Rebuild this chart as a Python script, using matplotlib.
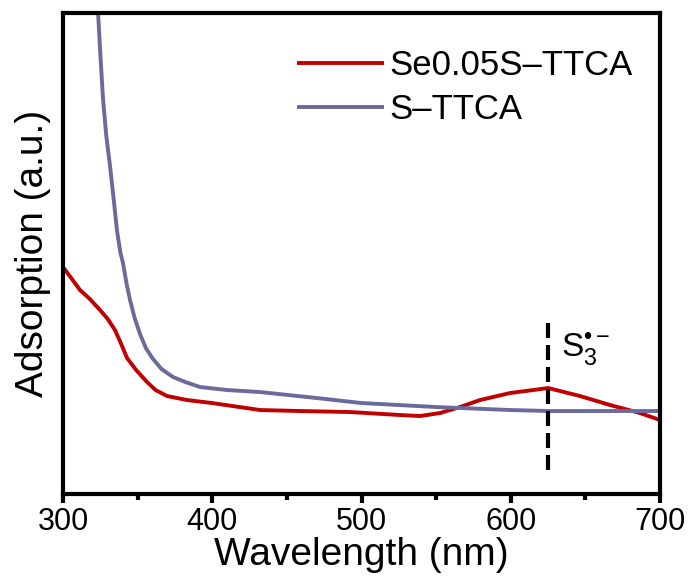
import matplotlib
matplotlib.use("Agg")
import matplotlib.pyplot as plt
from matplotlib.ticker import MultipleLocator

plt.rcParams['font.family'] = ['Liberation Sans', 'DejaVu Sans']
plt.rcParams['mathtext.fontset'] = 'custom'
plt.rcParams['mathtext.rm'] = 'Liberation Sans'
plt.rcParams['mathtext.it'] = 'Liberation Sans'

# Data (arbitrary absorbance units)
wl_se = [300, 305, 311.4, 318, 324.8, 330, 334.8, 339, 342.9, 349, 356.3, 362, 369.7, 383.1,
         399.8, 432, 458.8, 492.3, 525.8, 539.2, 552.6, 566, 579.4, 599.5, 615, 625,
         646.4, 666.5, 686.6, 700]
abs_se = [227, 217, 204, 195, 184, 175, 164, 150, 136, 124, 112, 104, 98, 94,
          91, 84, 83, 82, 79, 78, 81, 87, 94, 101, 104, 106,
          98, 89, 81, 74]

wl_s = [322.8, 323.5, 325, 326.8, 329, 331.5, 334, 336.2, 338.5, 340.2, 342.5, 344.9,
        348, 351.6, 355.5, 360.3, 366, 373.7, 382, 391.8, 410, 432,
        470, 500, 550, 600, 626, 700]
abs_s = [500, 481, 440, 395, 358, 328, 294, 263, 241, 231, 211, 194,
         176, 160, 146, 135, 125, 117, 112, 107, 104, 102,
         96, 91, 87, 84, 83, 83]

peak_x = 625
peak_span = [171, 24]

fig = plt.figure(figsize=(6.91, 5.78), dpi=100)
ax = fig.add_axes([0.0912, 0.1453, 0.864, 0.832])

ax.plot(wl_se, abs_se, color='#C00000', lw=2.8, label='Se0.05S\u2013TTCA', solid_joinstyle='round')
ax.plot(wl_s, abs_s, color='#6A6A9C', lw=2.8, label='S\u2013TTCA', solid_joinstyle='round')
ax.plot([peak_x, peak_x], peak_span, color='black', lw=3, dashes=(3.6, 1.68))
ax.text(633.5, 137, 'S$_3^{\u2022\u2212}$', fontsize=24, ha='left', va='baseline')

ax.set_xlim(300, 700)
ax.set_ylim(0, 481)
ax.xaxis.set_major_locator(MultipleLocator(100))
ax.xaxis.set_minor_locator(MultipleLocator(50))
ax.set_yticks([])
ax.tick_params(axis='x', which='major', direction='out', length=6.5, width=3, labelsize=22, pad=3)
ax.tick_params(axis='x', which='minor', direction='out', length=4.3, width=3)
for s in ax.spines.values():
    s.set_linewidth(3)

ax.set_xlabel('Wavelength (nm)', fontsize=28, labelpad=0)
ax.set_ylabel('Adsorption (a.u.)', fontsize=28, labelpad=9)

ax.legend(loc='upper left', bbox_to_anchor=(0.395, 0.925), frameon=False, fontsize=25,
          borderpad=0, borderaxespad=0,
          handlelength=2.4, handletextpad=0.22, labelspacing=0.31)

fig.savefig('out.png', dpi=100)
